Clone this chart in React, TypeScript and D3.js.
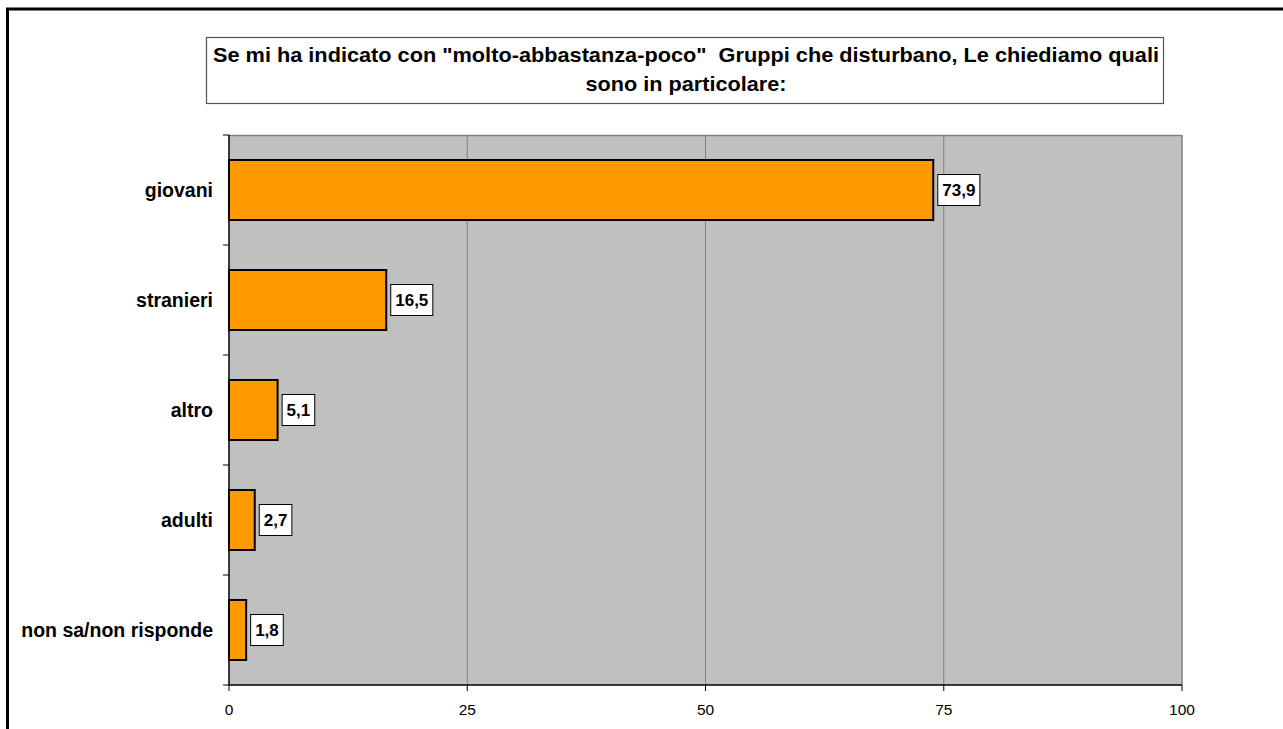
import React from "react";
import * as d3 from "d3";

const categories = ["giovani", "stranieri", "altro", "adulti", "non sa/non risponde"];
const values = [73.9, 16.5, 5.1, 2.7, 1.8];
const xTicks = [0, 25, 50, 75, 100];
const titleLines = [
  'Se mi ha indicato con "molto-abbastanza-poco"\u00A0 Gruppi che disturbano, Le chiediamo quali',
  "sono in particolare:",
];

const W = 1283;
const H = 729;
const plot = { left: 229, top: 135, right: 1182, bottom: 685 };
const FONT = "'Liberation Sans', Arial, sans-serif";

const fmt = (v: number) => v.toFixed(1).replace(".", ",");
const LABEL_FS = 17;
const textW = (s: string) =>
  s.split("").reduce((a, c) => a + (c === "," ? 0.278 : 0.556), 0) * LABEL_FS;

export default function App() {
  const x = d3.scaleLinear().domain([0, 100]).range([plot.left, plot.right]);
  const y = d3
    .scaleBand<string>()
    .domain(categories)
    .range([plot.top, plot.bottom])
    .paddingInner(0.4545)
    .paddingOuter(0.2273);
  const band = (plot.bottom - plot.top) / categories.length;
  const boundaries = d3.range(categories.length + 1).map((i) => plot.top + i * band);
  const titleWidths = [946, 201];

  return (
    <svg
      width={W}
      height={H}
      style={{ position: "absolute", left: 0, top: 0, background: "#fff" }}
      fontFamily={FONT}
    >
      <rect x={0} y={0} width={W} height={H} fill="#fff" />
      {/* outer frame */}
      <rect x={7.5} y={9} width={W + 20} height={H + 20} fill="none" stroke="#000" strokeWidth={3} />

      {/* title box */}
      <rect x={206.5} y={37.5} width={957} height={66} fill="#fff" stroke="#555" strokeWidth={1.2} />
      {titleLines.map((t, i) => (
        <text
          key={i}
          x={686}
          y={62 + i * 29}
          textAnchor="middle"
          fontSize={21}
          fontWeight="bold"
          fill="#000"
          textLength={titleWidths[i]}
          lengthAdjust="spacingAndGlyphs"
        >
          {t}
        </text>
      ))}

      {/* plot area */}
      <rect
        x={plot.left}
        y={plot.top}
        width={plot.right - plot.left}
        height={plot.bottom - plot.top}
        fill="#C0C0C0"
      />
      {xTicks.slice(1, -1).map((t) => (
        <line key={t} x1={x(t)} x2={x(t)} y1={plot.top} y2={plot.bottom} stroke="#808080" strokeWidth={1} />
      ))}
      <line x1={plot.left} x2={plot.right} y1={plot.top + 0.5} y2={plot.top + 0.5} stroke="#808080" strokeWidth={1.5} />
      <line x1={plot.right} x2={plot.right} y1={plot.top} y2={plot.bottom} stroke="#808080" strokeWidth={1.5} />

      {/* bars */}
      {categories.map((c, i) => (
        <rect
          key={c}
          x={x(0)}
          y={y(c)!}
          width={x(values[i]) - x(0)}
          height={y.bandwidth()}
          fill="#FF9900"
          stroke="#000"
          strokeWidth={2}
        />
      ))}

      {/* axes */}
      <line x1={plot.left} x2={plot.left} y1={plot.top} y2={plot.bottom} stroke="#000" strokeWidth={1.5} />
      <line x1={plot.left} x2={plot.right} y1={plot.bottom} y2={plot.bottom} stroke="#000" strokeWidth={1.5} />
      {boundaries.map((b, i) => (
        <line key={i} x1={plot.left - 6} x2={plot.left} y1={b} y2={b} stroke="#000" strokeWidth={1} />
      ))}
      {xTicks.map((t) => (
        <g key={t}>
          <line x1={x(t)} x2={x(t)} y1={plot.bottom} y2={plot.bottom + 6} stroke="#000" strokeWidth={1} />
          <text x={x(t)} y={plot.bottom + 30} textAnchor="middle" fontSize={15.5} fill="#000">
            {t}
          </text>
        </g>
      ))}

      {/* category labels */}
      {categories.map((c) => (
        <text
          key={c}
          x={213}
          y={y(c)! + y.bandwidth() / 2}
          dy="0.35em"
          textAnchor="end"
          fontSize={19.5}
          fontWeight="bold"
          fill="#000"
        >
          {c}
        </text>
      ))}

      {/* value labels */}
      {categories.map((c, i) => {
        const s = fmt(values[i]);
        const bw = textW(s) + 9;
        const bx = x(values[i]) + 4;
        const cy = y(c)! + y.bandwidth() / 2;
        return (
          <g key={c}>
            <rect x={bx + 0.5} y={cy - 15.5} width={bw} height={31} fill="#fff" stroke="#000" strokeWidth={1} />
            <text x={bx + 0.5 + bw / 2} y={cy} dy="0.36em" textAnchor="middle" fontSize={LABEL_FS} fontWeight="bold" fill="#000">
              {s}
            </text>
          </g>
        );
      })}
    </svg>
  );
}
